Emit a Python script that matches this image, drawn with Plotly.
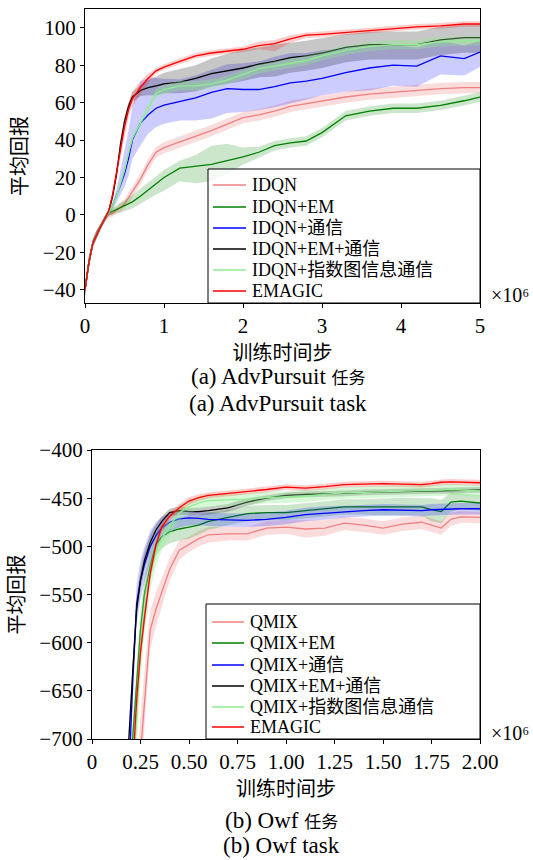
import plotly.graph_objects as go

W, H = 533, 860
FONT = "Liberation Serif, Noto Sans CJK SC, serif"

# ---------------- Top chart: AdvPursuit (x in 1e6 steps) ----------------
x_top = [0, 0.05, 0.1, 0.15, 0.2, 0.25, 0.3, 0.35, 0.4, 0.45, 0.5, 0.55, 0.6, 0.7, 0.8, 0.9, 1.0,
         1.2, 1.4, 1.6, 1.8, 2.0, 2.2, 2.4, 2.6, 2.8, 3.0, 3.3, 3.6, 3.9, 4.2, 4.5, 4.8, 5.0]

idqn_mean = [-40, -25, -15, -10, -6, -2, 0, 1, 2.5, 4, 6, 9, 12.5, 19, 27, 33.5, 36, 39, 42, 45, 48.5,
             52, 53.5, 55.5, 58, 59.5, 61, 63, 64.5, 65.5, 66.7, 67.5, 68, 68]
idqn_dn = [3, 3, 2, 2, 1.5, 1.5, 2, 2, 2, 2.5, 2.5, 3, 3, 3, 3, 3, 3, 3, 3, 3, 3, 3, 3, 3, 3, 3, 3, 3, 3, 3, 3, 3, 3, 3]
idqn_up = idqn_dn

idqn_em_mean = [-40, -25, -15, -10, -6, -2, 1, 2, 3, 3.8, 5, 6, 7, 10, 13.5, 17, 20, 25, 26, 27, 29, 31,
                33.5, 37, 38.5, 39.5, 44, 53, 55.5, 57, 57, 58.5, 61, 63]
idqn_em_up = [3, 3, 2, 2, 1.5, 1.5, 1.5, 2, 2, 2.5, 3, 3, 3.5, 4, 4, 4, 4, 4, 6, 10, 9, 5, 3, 2.5, 2.5,
              2.5, 2.5, 2.5, 2.5, 2.5, 2.5, 2.5, 2.5, 2.5]
idqn_em_dn = [3, 3, 2, 2, 1.5, 1.5, 1.5, 2, 2, 2.5, 3, 3, 3.5, 4, 5, 6, 7, 7, 9, 9, 7, 4, 3, 2.5, 2.5,
              2.5, 2.5, 2.5, 2.5, 2.5, 2.5, 2.5, 2.5, 2.5]

idqn_com_mean = [-40, -25, -15, -10, -6, -2, 1, 5, 10, 16, 22, 30, 40, 49, 53.5, 57, 58.7, 60.5, 62.5,
                 65.5, 67.5, 67, 67, 68.5, 70.5, 71.5, 73, 76, 78.5, 80, 79.5, 85, 83.5, 87]
idqn_com_up = [3, 3, 2, 2, 1.5, 1.5, 1.5, 2, 4, 8, 12, 15, 18, 22, 20, 16, 14, 12, 12, 12, 13, 14, 15,
               16, 16, 15, 15, 13, 12, 11, 10, 8, 7, 6]
idqn_com_dn = [3, 3, 2, 2, 1.5, 1.5, 1.5, 2, 3, 5, 7, 9, 10, 12, 10, 10, 10, 10, 12, 14, 13, 12, 11,
               11, 11, 10, 9, 10, 12, 11, 11, 10, 9, 8]

idqn_em_com_mean = [-40, -25, -15, -10, -6, -2, 2, 10, 22, 38, 50, 58, 63, 66.5, 68, 69, 70, 71, 73,
                    75.5, 77, 78.5, 80.5, 82, 84, 85, 86.5, 89.5, 91, 91.2, 91, 93.5, 94.7, 94.7]
idqn_em_com_up = [3, 3, 2, 2, 1.5, 1.5, 1.5, 2, 2, 2, 2, 2, 2.5, 3, 4, 5, 6, 7, 7, 8, 9, 10, 9, 9, 8,
                  8, 8, 7, 7, 7, 7, 7, 7, 7]
idqn_em_com_dn = [3, 3, 2, 2, 1.5, 1.5, 1.5, 2, 2, 2, 2, 2, 2.5, 3, 4, 5, 5, 6, 7, 7, 7, 7, 7, 8, 8,
                  8, 8, 8, 8, 8, 8, 8, 8, 8]

idqn_exp_mean = [-40, -25, -15, -10, -6, -2, 1, 5, 10, 17, 24, 33, 41, 49, 57, 65, 67, 69, 69, 70, 72,
                 75, 78, 79.5, 81, 82.5, 85, 88, 90, 91, 91, 92.5, 93, 93]
idqn_exp_dn = [3, 3, 2, 2, 1.5, 1.5, 1.5, 2, 2, 2, 2, 2, 2, 2, 2.5, 2.5, 2.5, 2.5, 2.5, 2.5, 2.5, 2.5,
               2.5, 2.5, 2.5, 2.5, 2.5, 2.5, 2.5, 2.5, 2.5, 2.5, 2.5, 2.5]
idqn_exp_up = idqn_exp_dn

emagic_top_mean = [-40, -25, -15, -10, -6, -2, 2, 11, 23, 35, 47, 56, 62, 68, 73, 77, 79, 82, 85, 86.5,
                   87.5, 88.5, 90.5, 91.5, 94, 96, 96.5, 97.5, 98.8, 99.5, 100.5, 101, 102, 102]
emagic_top_dn = [3, 3, 2, 2, 1.5, 1.5, 1.5, 2, 3, 4, 4, 4, 4, 3.5, 2.5, 1.5, 1.5, 1.5, 1.5, 1.5, 1.5,
                 1.5, 2, 4, 2, 1.5, 1.5, 1.5, 1.5, 1.5, 1.5, 1.5, 1.5, 1.5]
emagic_top_up = [3, 3, 2, 2, 1.5, 1.5, 1.5, 2, 3, 4, 4, 4, 4, 3.5, 2.5, 1.5, 1.5, 1.5, 1.5, 1.5, 1.5,
                 1.5, 2, 2, 2, 1.5, 1.5, 1.5, 1.5, 1.5, 1.5, 1.5, 1.5, 1.5]

top_labels = ["IDQN", "IDQN+EM", "IDQN+通信", "IDQN+EM+通信", "IDQN+指数图信息通信", "EMAGIC"]
top_ticks = [0, 1, 2, 3, 4, 5]
top_yticks = [-40, -20, 0, 20, 40, 60, 80, 100]

# ---------------- Bottom chart: Owf (x in 1e6 steps) ----------------
x_bot = [0.10, 0.19, 0.21, 0.23, 0.25, 0.27, 0.30, 0.33, 0.36, 0.40, 0.45, 0.50, 0.55, 0.60, 0.70,
         0.80, 0.90, 1.00, 1.10, 1.20, 1.30, 1.40, 1.50, 1.60, 1.70, 1.75, 1.80, 1.85, 1.90, 2.00]

qmix_mean = [-1300, -900, -840, -770, -715, -660, -587, -565, -548, -524, -504, -498, -492, -488, -487,
             -487, -481, -480, -482, -481, -476, -478, -481, -477, -475, -478, -481, -472, -469.5, -470]
qmix_sd = [45, 45, 45, 45, 40, 30, 20, 18, 15, 12, 10, 8, 8, 8, 7, 7, 7, 7, 9, 8, 7, 7, 7, 7, 7, 7, 7,
           7, 6, 6]

qmix_em_mean = [-1150, -760, -700, -640, -587, -550, -520, -498, -490, -485, -482, -480, -478, -474,
                -470, -466, -465, -465, -463, -461, -459, -459, -459, -458.5, -459, -462, -464, -454,
                -453, -455]
qmix_em_sd = [20, 20, 20, 20, 18, 16, 14, 12, 12, 12, 12, 12, 10, 9, 8, 8, 8, 8, 8, 8, 8, 8, 9, 9, 9,
              12, 12, 10, 8, 8]

qmix_com_mean = [-1100, -740, -640, -560, -535, -519, -500, -489, -481, -475, -471.5, -470.5, -471,
                 -472, -472.6, -473, -472, -470, -467, -465.5, -464, -463, -462, -462.5, -463, -462,
                 -461.5, -461, -461, -461]
qmix_com_sd = [20, 20, 20, 20, 20, 18, 16, 14, 12, 10, 9, 8, 7, 7, 7, 7, 7, 7, 7, 7, 6, 6, 6, 6, 6, 6,
               6, 6, 6, 6]

qmix_em_com_mean = [-1100, -700, -630, -565, -535, -515, -496, -483, -474, -465, -463, -464, -464,
                    -463, -460, -454, -450, -447, -446, -445.6, -445, -444, -443.5, -443, -443, -442.5,
                    -442, -441.5, -441.5, -441.5]
qmix_em_com_sd = [12, 12, 12, 12, 10, 9, 8, 6, 5, 4, 4, 4, 4, 4, 4, 4, 3, 3, 3, 3, 3, 3, 3, 3, 3, 3,
                  3, 3, 3, 3]

qmix_exp_mean = [-1150, -790, -740, -680, -610, -570, -528, -505, -492, -479, -465, -459, -455, -452.5,
                 -452, -451, -449.5, -449, -448, -446, -444.6, -444, -443.5, -443, -443, -442, -441.5,
                 -441, -441.5, -442.5]
qmix_exp_sd = [40, 40, 40, 35, 28, 22, 18, 15, 12, 10, 8, 7, 7, 7, 7, 6, 6, 6, 6, 6, 6, 6, 6, 6, 6, 6,
               6, 6, 6, 6]

emagic_bot_mean = [-1200, -800, -730, -660, -610, -575, -528, -498, -480, -469, -460, -453, -449.5,
                   -447, -445, -443.5, -441, -438.5, -439.5, -438, -436, -435.5, -435, -435.5, -436,
                   -435, -433.5, -433, -433.5, -434]
emagic_bot_sd = [10, 10, 10, 10, 10, 9, 8, 6, 5, 4, 4, 4, 3.5, 3, 3, 3, 3, 3, 3, 3, 3, 3, 3, 3, 3, 3,
                 3, 3, 3, 3]

bot_labels = ["QMIX", "QMIX+EM", "QMIX+通信", "QMIX+EM+通信", "QMIX+指数图信息通信", "EMAGIC"]
bot_ticks = [0, 0.25, 0.5, 0.75, 1.0, 1.25, 1.5, 1.75, 2.0]
bot_ticktext = ["0", "0.25", "0.50", "0.75", "1.00", "1.25", "1.50", "1.75", "2.00"]
bot_yticks = [-700, -650, -600, -550, -500, -450, -400]

x_title = "训练时间步"
y_title = "平均回报"
x_scale_label = "×10⁶"

# ---------------- styles ----------------
line_colors = ["#f08080", "#008000", "#0000ff", "#000000", "#90ee90", "#ff0000"]
fill_colors = ["rgba(240,128,128,0.28)", "rgba(0,128,0,0.2)", "rgba(0,0,255,0.2)",
               "rgba(0,0,0,0.22)", "rgba(144,238,144,0.35)", "rgba(255,0,0,0.2)"]


def px(x):
    return x / W


def py(y):
    return 1 - y / H


fig = go.Figure()


def add_series(x, mean, dn, up, lc, fc, xa, ya):
    lower = [m - d for m, d in zip(mean, dn)]
    upper = [m + u for m, u in zip(mean, up)]
    fig.add_trace(go.Scatter(x=x, y=lower, mode="lines", line=dict(width=0), showlegend=False,
                             hoverinfo="skip", xaxis=xa, yaxis=ya))
    fig.add_trace(go.Scatter(x=x, y=upper, mode="lines", line=dict(width=0), fill="tonexty",
                             fillcolor=fc, showlegend=False, hoverinfo="skip", xaxis=xa, yaxis=ya))
    fig.add_trace(go.Scatter(x=x, y=mean, mode="lines", line=dict(color=lc, width=1.3),
                             showlegend=False, xaxis=xa, yaxis=ya))


top_series = [(idqn_mean, idqn_dn, idqn_up), (idqn_em_mean, idqn_em_dn, idqn_em_up),
              (idqn_com_mean, idqn_com_dn, idqn_com_up),
              (idqn_em_com_mean, idqn_em_com_dn, idqn_em_com_up),
              (idqn_exp_mean, idqn_exp_dn, idqn_exp_up),
              (emagic_top_mean, emagic_top_dn, emagic_top_up)]
for (m, d, u), lc, fc in zip(top_series, line_colors, fill_colors):
    add_series(x_top, m, d, u, lc, fc, "x", "y")

bot_series = [(qmix_mean, qmix_sd), (qmix_em_mean, qmix_em_sd), (qmix_com_mean, qmix_com_sd),
              (qmix_em_com_mean, qmix_em_com_sd), (qmix_exp_mean, qmix_exp_sd),
              (emagic_bot_mean, emagic_bot_sd)]
for (m, s), lc, fc in zip(bot_series, line_colors, fill_colors):
    add_series(x_bot, m, s, s, lc, fc, "x2", "y2")

axis_common = dict(showgrid=False, zeroline=False, showline=True, mirror=True, linecolor="black",
                   linewidth=1.2, ticks="outside", ticklen=4, tickwidth=1.2, tickcolor="black",
                   tickfont=dict(family=FONT, size=21, color="black"), automargin=False)
title_font = dict(family=FONT, size=20, color="black")

fig.update_layout(
    width=W, height=H, margin=dict(l=0, r=0, t=0, b=0),
    paper_bgcolor="white", plot_bgcolor="white", showlegend=False,
    xaxis=dict(domain=[px(85), px(480)], range=[0, 5], tickvals=top_ticks, anchor="y",
               title=dict(text=x_title, font=title_font, standoff=8), **axis_common),
    yaxis=dict(domain=[py(303), py(9)], range=[-47, 110], tickvals=top_yticks, anchor="x",
               title=dict(text=y_title, font=title_font, standoff=9), **axis_common),
    xaxis2=dict(domain=[px(92), px(480)], range=[0, 2], tickvals=bot_ticks, ticktext=bot_ticktext,
                anchor="y2", title=dict(text=x_title, font=title_font, standoff=8), **axis_common),
    yaxis2=dict(domain=[py(739), py(450)], range=[-700, -400], tickvals=bot_yticks, anchor="x2",
                title=dict(text=y_title, font=title_font, standoff=9), **axis_common),
)

ann = []
shapes = []


def text(x, y, s, size=20, angle=0, xanchor="center", yanchor="middle", align="center"):
    ann.append(dict(x=px(x), y=py(y), xref="paper", yref="paper", text=s, showarrow=False,
                    textangle=angle, xanchor=xanchor, yanchor=yanchor, align=align,
                    font=dict(family=FONT, size=size, color="black")))


CJK_SMALL = '<span style="font-size:17px">{}</span>'

# captions and exponent labels
text(278, 377, "(a) AdvPursuit " + CJK_SMALL.format("任务"), size=23)
text(278, 403, "(a) AdvPursuit task", size=23)
text(489, 295, x_scale_label, size=20, xanchor="left")

text(281, 820, "(b) Owf " + CJK_SMALL.format("任务"), size=23)
text(281, 845, "(b) Owf task", size=23)
text(489, 733, x_scale_label, size=20, xanchor="left")


def legend(box, rows, line_x, text_x, labels):
    x0, y0, x1, y1 = box
    shapes.append(dict(type="rect", xref="paper", yref="paper", x0=px(x0), x1=px(x1), y0=py(y1),
                       y1=py(y0), fillcolor="rgba(255,255,255,0.8)",
                       line=dict(color="black", width=1), layer="above"))
    for ry, lc in zip(rows, line_colors):
        shapes.append(dict(type="line", xref="paper", yref="paper", x0=px(line_x[0]), x1=px(line_x[1]),
                           y0=py(ry), y1=py(ry), line=dict(color=lc, width=1.5), layer="above"))
    for ry, lab in zip(rows, labels):
        text(text_x, ry, lab, size=18, xanchor="left", align="left")


legend((208, 169, 480, 303), [185, 207, 228, 249, 270, 291], (213, 246), 250, top_labels)
legend((206, 604, 480, 739), [622, 643, 665, 686, 707, 727], (212, 244), 248, bot_labels)

fig.update_layout(annotations=ann, shapes=shapes)
fig.write_html("out.html", config={"displayModeBar": False},
               post_script="document.body.style.margin='0px';")
